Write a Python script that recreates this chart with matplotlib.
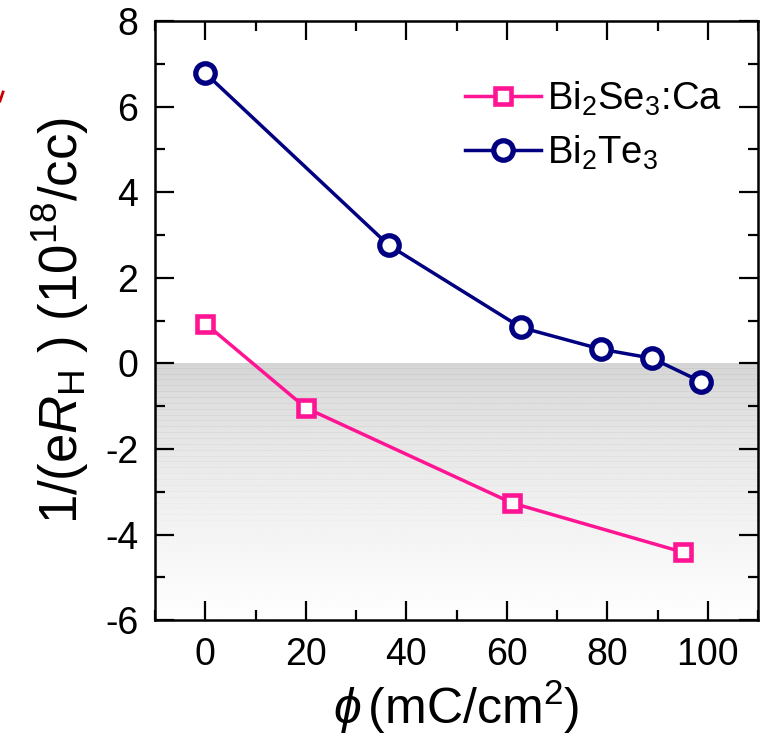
import numpy as np
import matplotlib
matplotlib.use("Agg")
import matplotlib.pyplot as plt
from matplotlib.lines import Line2D
from matplotlib.ticker import MultipleLocator

plt.rcParams['font.family'] = ['Liberation Sans', 'DejaVu Sans']
plt.rcParams['mathtext.fontset'] = 'custom'
plt.rcParams['mathtext.rm'] = 'Liberation Sans'
plt.rcParams['mathtext.it'] = 'Liberation Sans:italic'
plt.rcParams['mathtext.bf'] = 'Liberation Sans:bold'
plt.rcParams['axes.unicode_minus'] = False

# Data
se_x = [0, 20, 61, 95]
se_y = [0.93, -1.04, -3.26, -4.41]
te_x = [0, 36.5, 62.8, 78.8, 88.9, 98.7]
te_y = [6.78, 2.76, 0.84, 0.33, 0.12, -0.43]

se_label = 'Bi$_2$Se$_3$:Ca'
te_label = 'Bi$_2$Te$_3$'

fig = plt.figure(figsize=(7.68, 7.49), dpi=100)
ax = fig.add_axes([0.202, 0.172, 0.785, 0.8])

# gradient shading for negative region
t = np.linspace(0, 1, 256)
grad = (0.83 + 0.167 * t ** 0.7).reshape(-1, 1)
ax.imshow(grad, cmap='gray', vmin=0, vmax=1, aspect='auto',
          extent=(-10, 110, -6, 0), origin='upper', zorder=0, interpolation='bilinear')
# faint banding in the shaded area
for yb in np.linspace(-0.1, -3.8, 28):
    ax.axhline(yb, color='0.72', lw=0.6, alpha=0.35 * (1 + yb / 4.2), zorder=0.5)
ax.set_xlim(-10, 110)
ax.set_ylim(-6, 8)

pink = '#FF1493'
navy = '#000080'
ax.plot(se_x, se_y, color=pink, lw=2.5, marker='s', ms=12, mfc='white',
        mec=pink, mew=3.3, label=se_label, zorder=3)
ax.plot(te_x, te_y, color=navy, lw=2.5, marker='o', ms=14, mfc='white',
        mec=navy, mew=3.8, label=te_label, zorder=3)

ax.xaxis.set_major_locator(MultipleLocator(20))
ax.xaxis.set_minor_locator(MultipleLocator(10))
ax.yaxis.set_major_locator(MultipleLocator(2))
ax.yaxis.set_minor_locator(MultipleLocator(1))
ax.tick_params(which='both', direction='in', top=True, right=True, width=1.6)
ax.tick_params(which='major', length=14, labelsize=27, pad=12)
ax.tick_params(which='minor', length=7.5)
for s in ax.spines.values():
    s.set_linewidth(1.8)

ax.set_xlabel(r'$\phi\,$(mC/cm$^2$)', fontsize=36, labelpad=4)
ax.set_ylabel(r'1/(e$R_{\mathrm{H}}$ ) (10$^{18}$/cc)', fontsize=38, labelpad=10)

leg = ax.legend(loc='upper right', frameon=False, fontsize=27.5, handlelength=2.0,
                handletextpad=0.15, labelspacing=0.42, borderaxespad=0.5,
                bbox_to_anchor=(0.997, 0.96))

# small red mark at the left edge
fig.add_artist(Line2D([0.004, 0.0], [1 - 92/749, 1 - 101/749], color='#cc0000', lw=2,
                      transform=fig.transFigure))

fig.savefig('out.png', dpi=100)
